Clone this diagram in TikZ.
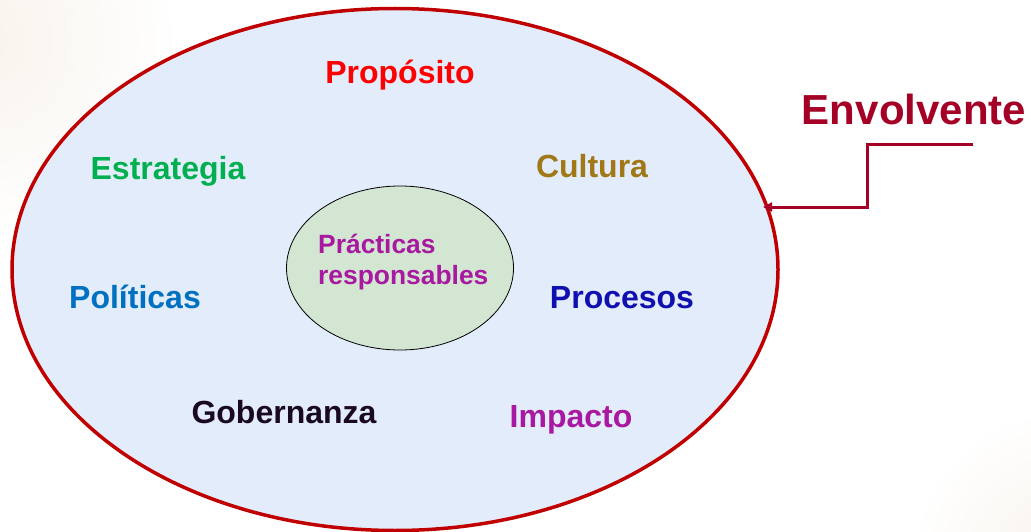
\documentclass[tikz,border=0pt]{standalone}
\usepackage{fontspec}
\setmainfont{Liberation Sans}
\usetikzlibrary{shapes.geometric,arrows.meta}
\definecolor{envred}{HTML}{A50026}
\definecolor{ringred}{HTML}{C00000}
\definecolor{outerfill}{HTML}{E3ECFB}
\definecolor{innerfill}{HTML}{D3E6D2}
\definecolor{cPro}{HTML}{FF0000}
\definecolor{cEst}{HTML}{00B050}
\definecolor{cCul}{HTML}{A07818}
\definecolor{cPol}{HTML}{0070C0}
\definecolor{cPrc}{HTML}{1010B0}
\definecolor{cGob}{HTML}{1A0A20}
\definecolor{cImp}{HTML}{A818A0}
\definecolor{peach}{HTML}{F8F3EC}
\tikzset{
  lbl/.style={font=\bfseries\fontsize{32}{36}\selectfont, inner sep=0pt, anchor=base},
  connector/.style={draw=envred, line width=3pt, -{Triangle[length=9pt,width=9pt]}}
}
\begin{document}
\begin{tikzpicture}[x=1pt,y=-1pt]
\useasboundingbox (0,0) rectangle (1031,532);
\begin{scope}
\clip (0,0) rectangle (1031,532);
\fill[white] (0,0) rectangle (1031,532);
\shade[inner color=peach, outer color=white] (-20,40) circle (200);
\shade[inner color=peach, outer color=white] (1060,560) circle (150);
\end{scope}
\node[ellipse, draw=ringred, line width=3.5pt, fill=outerfill, minimum width=766pt, minimum height=522pt, inner sep=0pt] (outer) at (395,269.5) {};
\node[ellipse, draw=black, line width=0.8pt, fill=innerfill, minimum width=227pt, minimum height=164pt, inner sep=0pt] (inner) at (400,268) {};
\node[inner sep=0pt, align=left, anchor=base west, text=cImp, font=\bfseries\fontsize{26.4}{31}\selectfont] (prac) at (318,284) {Prácticas\\responsables};
\node[lbl, text=cPro] (proposito) at (400,84) {Propósito};
\node[lbl, text=cEst] (estrategia) at (168,179) {Estrategia};
\node[lbl, text=cCul] (cultura) at (592,178) {Cultura};
\node[lbl, text=cPol] (politicas) at (135,308) {Políticas};
\node[lbl, text=cPrc] (procesos) at (622,308) {Procesos};
\node[lbl, text=cGob] (gobernanza) at (284,423) {Gobernanza};
\node[lbl, text=cImp] (impacto) at (571,427) {Impacto};
\node[inner sep=0pt, anchor=base, text=envred, font=\bfseries\fontsize{42}{48}\selectfont] (envolvente) at (914,125) {Envolvente};
\coordinate (lstart) at (973,145);
\coordinate (lcorner1) at (867,145);
\coordinate (lcorner2) at (867,207);
\coordinate (ltip) at (763,207);
\draw[connector] (lstart) -- (lcorner1) -- (lcorner2) -- (ltip);
\end{tikzpicture}
\end{document}
